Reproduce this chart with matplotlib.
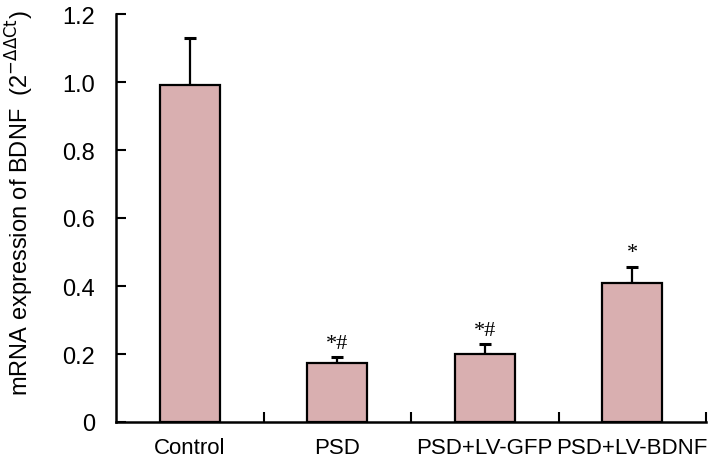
import matplotlib
matplotlib.use("Agg")
import matplotlib.pyplot as plt
import numpy as np

groups = ["Control", "PSD", "PSD+LV-GFP", "PSD+LV-BDNF"]
means = [0.99, 0.175, 0.20, 0.41]
errs = [0.14, 0.015, 0.03, 0.047]
marks = ["", "*#", "*#", "*"]
yticks = [0, 0.2, 0.4, 0.6, 0.8, 1.0, 1.2]
ytick_labels = ["0", "0.2", "0.4", "0.6", "0.8", "1.0", "1.2"]

plt.rcParams['font.family'] = ['Liberation Sans', 'DejaVu Sans']

fig = plt.figure(figsize=(7.17, 4.60), dpi=100)
ax = fig.add_axes([116/717, 37/460, (706-116)/717, (423-15)/460])

x = np.arange(len(groups))
ax.bar(x, means, width=0.41, color='#d9afb0', edgecolor='black', linewidth=1.6, zorder=2)
ax.errorbar(x, means, yerr=[np.zeros(len(errs)), errs], fmt='none', ecolor='black',
            elinewidth=1.6, capsize=4.5, capthick=2.2, zorder=1)

for xi, m, e, t in zip(x, means, errs, marks):
    if t:
        ax.annotate(t, (xi, m + e), xytext=(0, 3), textcoords='offset points',
                    ha='center', va='bottom', fontsize=16, family='Liberation Serif')

ax.set_xlim(-0.5, 3.5)
ax.set_ylim(0, 1.2)
ax.set_yticks(yticks)
ax.set_yticklabels(ytick_labels)
ax.set_xticks(x)
ax.set_xticklabels(groups)
ax.set_xticks([0.5, 1.5, 2.5, 3.5], minor=True)
ax.tick_params(axis='x', which='major', length=0, pad=11, labelsize=16)
ax.tick_params(axis='x', which='minor', direction='in', length=7, width=1.5)
ax.tick_params(axis='y', which='major', direction='in', length=7, width=1.5, pad=15, labelsize=17)

for s in ['top', 'right']:
    ax.spines[s].set_visible(False)
for s in ['left', 'bottom']:
    ax.spines[s].set_linewidth(1.8)

fig.text(20/717, 1 - 203/460, r'mRNA expression of BDNF  (2$^{-\Delta\Delta\mathrm{Ct}}$)',
         rotation=90, ha='center', va='center', fontsize=17)

fig.savefig('out.png', dpi=100)
